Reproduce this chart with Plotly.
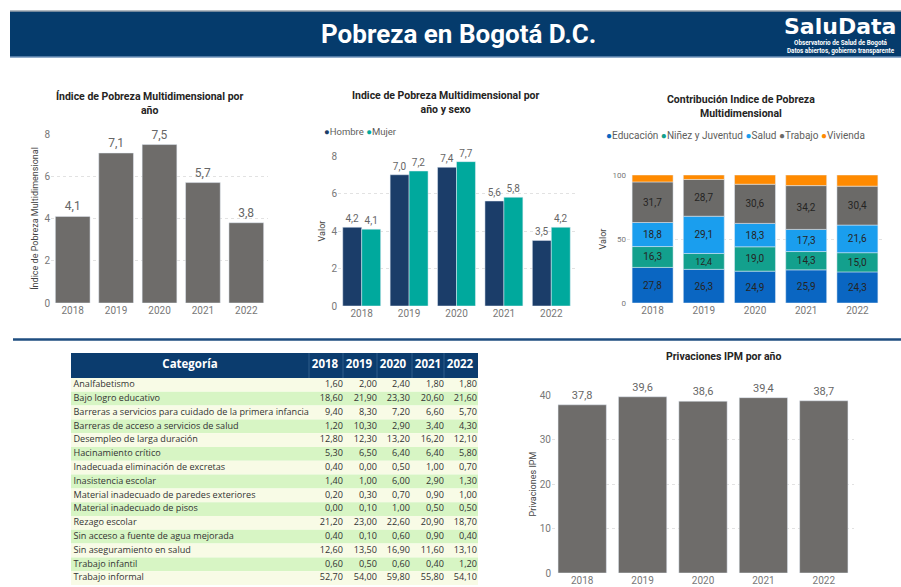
import plotly.graph_objects as go

W, H = 901, 587
def X(px): return px / W
def Y(py): return 1 - py / H

years = ["2018", "2019", "2020", "2021", "2022"]

# Chart 1: IPM por año
ipm = [4.1, 7.1, 7.5, 5.7, 3.8]
# Chart 2: IPM por año y sexo
hombre = [4.2, 7.0, 7.4, 5.6, 3.5]
mujer = [4.1, 7.2, 7.7, 5.8, 4.2]
# Chart 3: Contribución
educacion = [27.8, 26.3, 24.9, 25.9, 24.3]
ninez = [16.3, 12.4, 19.0, 14.3, 15.0]
salud = [18.8, 29.1, 18.3, 17.3, 21.6]
trabajo = [31.7, 28.7, 30.6, 34.2, 30.4]
vivienda = [5.4, 3.5, 7.2, 8.3, 8.7]
# Chart 4: Privaciones IPM
privaciones = [37.8, 39.6, 38.6, 39.4, 38.7]

# Table
categorias = [
    "Analfabetismo", "Bajo logro educativo",
    "Barreras a servicios para cuidado de la primera infancia",
    "Barreras de acceso a servicios de salud", "Desempleo de larga duración",
    "Hacinamiento crítico", "Inadecuada eliminación de excretas",
    "Inasistencia escolar", "Material inadecuado de paredes exteriores",
    "Material inadecuado de pisos", "Rezago escolar",
    "Sin acceso a fuente de agua mejorada", "Sin aseguramiento en salud",
    "Trabajo infantil", "Trabajo informal",
]
t2018 = [1.60, 18.60, 9.40, 1.20, 12.80, 5.30, 0.40, 1.40, 0.20, 0.00, 21.20, 0.40, 12.60, 0.60, 52.70]
t2019 = [2.00, 21.90, 8.30, 10.30, 12.30, 6.50, 0.00, 1.00, 0.30, 0.10, 23.00, 0.10, 13.50, 0.50, 54.00]
t2020 = [2.40, 23.30, 7.20, 2.90, 13.20, 6.40, 0.50, 6.00, 0.70, 1.00, 22.60, 0.60, 16.90, 0.60, 59.80]
t2021 = [1.80, 20.60, 6.60, 3.40, 16.20, 6.40, 1.00, 2.90, 0.90, 0.50, 20.90, 0.90, 11.60, 0.40, 55.80]
t2022 = [1.80, 21.60, 5.70, 4.30, 12.10, 5.80, 0.70, 1.30, 1.00, 0.50, 18.70, 0.40, 13.10, 1.20, 54.10]

def fmt(v, d=1):
    return f"{v:.{d}f}".replace(".", ",")

TICK = dict(family="Roboto", size=10, color="#777777")
TITLEF = dict(family="Roboto", size=10.5, color="#252423")
GRID = dict(showgrid=True, gridcolor="#E2E2E2", griddash="dot", gridwidth=1, zeroline=False)

fig = go.Figure()

# ---- Chart 1
fig.add_trace(go.Bar(x=years, y=ipm, xaxis="x", yaxis="y", marker_color="#6E6C6A",
                     text=[fmt(v) for v in ipm], textposition="outside",
                     textfont=dict(family="Roboto", size=12, color="#666666"),
                     cliponaxis=False, showlegend=False))
# ---- Chart 2
fig.add_trace(go.Bar(x=years, y=hombre, xaxis="x2", yaxis="y2", marker_color="#1B3D69", name="Hombre",
                     text=[fmt(v) for v in hombre], textposition="outside",
                     textfont=dict(family="Roboto", size=10, color="#666666"),
                     cliponaxis=False, showlegend=False, offsetgroup="h"))
fig.add_trace(go.Bar(x=years, y=mujer, xaxis="x2", yaxis="y2", marker_color="#00A99D", name="Mujer",
                     text=[fmt(v) for v in mujer], textposition="outside",
                     textfont=dict(family="Roboto", size=10, color="#666666"),
                     cliponaxis=False, showlegend=False, offsetgroup="m"))
# ---- Chart 3 (stacked via base)
series3 = [("Educación", educacion, "#0A66C2", True),
           ("Niñez y Juventud", ninez, "#13A08D", True),
           ("Salud", salud, "#1A9EEE", True),
           ("Trabajo", trabajo, "#6B6A68", True),
           ("Vivienda", vivienda, "#FF8A00", False)]
base = [0.0] * 5
for name, vals, col, lab in series3:
    fig.add_trace(go.Bar(x=years, y=vals, base=list(base), xaxis="x3", yaxis="y3", marker_color=col,
                         name=name, offsetgroup="s",
                         text=[fmt(v) for v in vals] if lab else None,
                         textposition="inside", insidetextanchor="middle", textangle=0,
                         textfont=dict(family="Roboto", size=10, color="#252423"),
                         showlegend=False))
    base = [b + v for b, v in zip(base, vals)]
# ---- Chart 4
fig.add_trace(go.Bar(x=years, y=privaciones, xaxis="x4", yaxis="y4", marker_color="#6E6C6A",
                     text=[fmt(v) for v in privaciones], textposition="outside",
                     textfont=dict(family="Roboto", size=11, color="#666666"),
                     cliponaxis=False, showlegend=False))

# ---- Table (drawn on its own axes: one row = one unit)
TBL_L, TBL_R, TBL_T = 71, 478, 353
HDR_PX, ROW_PX = 25, 13.8
nrows = len(categorias)
hdr_units = HDR_PX / ROW_PX
tbl_w = TBL_R - TBL_L
row_y = [i + 0.5 for i in range(nrows)]
row_colors = ["#F8FBE6" if i % 2 == 0 else "#D7F5C4" for i in range(nrows)]
fig.add_trace(go.Bar(
    orientation="h", xaxis="x5", yaxis="y5",
    y=[-hdr_units / 2] + row_y, x=[tbl_w] * (nrows + 1), base=0,
    width=[hdr_units] + [1] * nrows,
    marker=dict(color=["#0B3C6E"] + row_colors, line=dict(width=0)),
    showlegend=False))
val_right = [270, 304, 337, 371, 404]      # right edges of value columns (px from table left)
hdr_centers = [119, 254, 288, 322, 357, 389]
CELLF = dict(family="Open Sans", size=9.1, color="#333333")
fig.add_trace(go.Scatter(
    x=[2.5] * nrows, y=row_y, text=categorias, mode="text", textposition="middle right",
    xaxis="x5", yaxis="y5", cliponaxis=False, showlegend=False, textfont=CELLF))
for xr, col in zip(val_right, [t2018, t2019, t2020, t2021, t2022]):
    fig.add_trace(go.Scatter(
        x=[xr + 2] * nrows, y=row_y, text=[fmt(v, 2) for v in col], mode="text", textposition="middle left",
        xaxis="x5", yaxis="y5", cliponaxis=False, showlegend=False, textfont=CELLF))
fig.add_trace(go.Scatter(
    x=hdr_centers, y=[-hdr_units / 2] * 6, text=["<b>Categoría</b>"] + [f"<b>{y}</b>" for y in years],
    mode="text", textposition="middle center", xaxis="x5", yaxis="y5", cliponaxis=False, showlegend=False,
    textfont=dict(family="Open Sans", size=11.5, color="white")))

def xax(d0, d1, anchor):
    return dict(domain=[X(d0), X(d1)], anchor=anchor, type="category", tickfont=TICK,
                showgrid=False, zeroline=False, showline=False, ticks="", automargin=False)

def yax(d0, d1, anchor, rng, dtick, title, tsize=9, standoff=4, tickfont=TICK):
    return dict(domain=[Y(d1), Y(d0)], anchor=anchor, range=rng, dtick=dtick, tickfont=tickfont,
                title=dict(text=title, font=dict(family="Roboto", size=tsize, color="#444444"), standoff=standoff),
                showline=False, ticks="", automargin=False, **GRID)

layout = dict(
    width=W, height=H, autosize=False, margin=dict(l=0, r=0, t=0, b=0),
    paper_bgcolor="white", plot_bgcolor="white", barmode="group", bargap=0.2, bargroupgap=0,
    xaxis=xax(51, 268, "y"), yaxis=yax(134, 303, "x", [0, 8], 2, "Índice de Pobreza Multidimensional"),
    xaxis2=xax(338, 575, "y2"), yaxis2=yax(156, 306, "x2", [0, 8], 2, "Valor"),
    xaxis3=xax(627, 883, "y3"), yaxis3=yax(175, 303, "x3", [0, 100], 50, "Valor",
                                          tickfont=dict(family="Roboto", size=8, color="#777777")),
    xaxis4=xax(552, 854, "y4"), yaxis4=yax(395, 573, "x4", [0, 40], 10, "Privaciones IPM", standoff=1),
    xaxis5=dict(domain=[X(TBL_L), X(TBL_R)], anchor="y5", range=[0, tbl_w], visible=False, automargin=False),
    yaxis5=dict(domain=[Y(TBL_T + HDR_PX + ROW_PX * nrows), Y(TBL_T)], anchor="x5",
                range=[nrows, -hdr_units], visible=False, automargin=False),
    hovermode=False,
)

shapes = [
    dict(type="rect", xref="paper", yref="paper", x0=X(10), x1=X(901), y0=Y(57), y1=Y(11),
         fillcolor="#053B6C", line=dict(width=0), layer="below"),
    dict(type="line", xref="paper", yref="paper", x0=X(10), x1=X(901), y0=Y(11), y1=Y(11),
         line=dict(color="#9AA3AD", width=1.5)),
    dict(type="line", xref="paper", yref="paper", x0=X(10), x1=X(901), y0=Y(57), y1=Y(57),
         line=dict(color="#6F93BA", width=1.5)),
    dict(type="line", xref="paper", yref="paper", x0=X(13), x1=X(901), y0=Y(339.5), y1=Y(339.5),
         line=dict(color="#1F4E80", width=2.5)),
]
# faint header column separators
for sep in [238, 272, 306, 341, 373]:
    shapes.append(dict(type="line", xref="x5", yref="y5", x0=sep, x1=sep, y0=-hdr_units, y1=0,
                       line=dict(color="#2F5C8A", width=1)))

def ann(text, x, y, size, color="#252423", family="Roboto", xanchor="center", bold=False):
    return dict(text=f"<b>{text}</b>" if bold else text, x=X(x), y=Y(y), xref="paper", yref="paper",
                showarrow=False, xanchor=xanchor, yanchor="middle",
                font=dict(family=family, size=size, color=color))

anns = [
    ann("Pobreza en Bogotá D.C.", 458, 34, 26, "white", bold=True),
    ann("SaluData", 840, 26, 22, "white", family="DejaVu Sans", bold=True),
    ann("Observatorio de Salud de Bogotá<br>Datos abiertos, gobierno transparente", 841, 47, 6.3, "white", bold=True),
    dict(text="<b>Índice de Pobreza Multidimensional por<br>año</b>", x=X(149), y=Y(103), xref="paper", yref="paper",
         showarrow=False, xanchor="center", yanchor="middle", font=TITLEF),
    dict(text="<b>Indice de Pobreza Multidimensional por<br>año y sexo</b>", x=X(445), y=Y(102), xref="paper", yref="paper",
         showarrow=False, xanchor="center", yanchor="middle", font=TITLEF),
    dict(text="<b>Contribución Indice de Pobreza<br>Multidimensional</b>", x=X(741), y=Y(106), xref="paper", yref="paper",
         showarrow=False, xanchor="center", yanchor="middle", font=TITLEF),
    ann("Privaciones IPM por año", 723, 356, 10.5, bold=True),
    ann("<span style='color:#1B3D69'>●</span>Hombre <span style='color:#00A99D'>●</span>Mujer",
        322, 132, 9.5, "#605E5C", xanchor="left"),
    ann("<span style='color:#0A66C2'>●</span>Educación <span style='color:#13A08D'>●</span>Niñez y Juventud "
        "<span style='color:#1A9EEE'>●</span>Salud <span style='color:#6B6A68'>●</span>Trabajo "
        "<span style='color:#FF8A00'>●</span>Vivienda", 604, 135, 10, "#605E5C", xanchor="left"),
]

layout["shapes"] = shapes
layout["annotations"] = anns
fig.update_layout(**layout)
fig.write_html("out.html", config=dict(displayModeBar=False, staticPlot=True))
